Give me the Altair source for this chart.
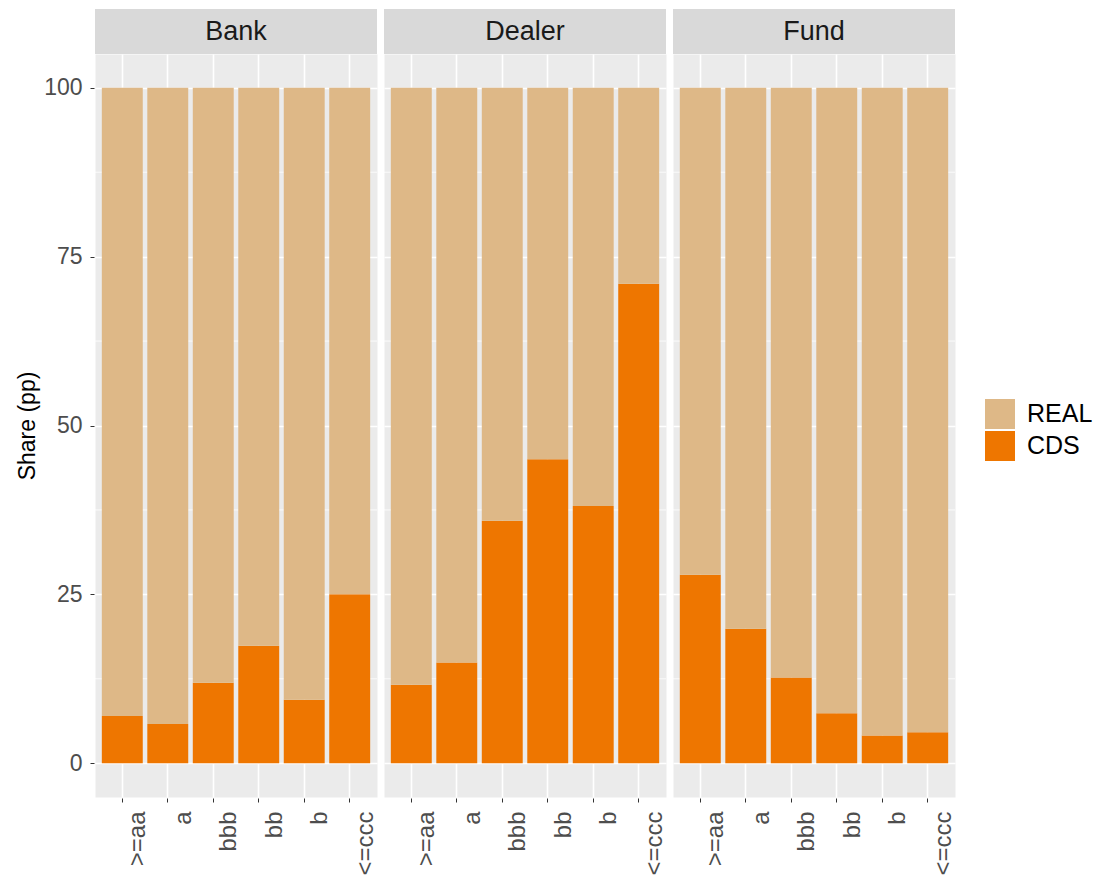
import altair as alt
import pandas as pd

groups = ["Bank", "Dealer", "Fund"]
ratings = [">=aa", "a", "bbb", "bb", "b", "<=ccc"]
cds_bank = [7.0, 5.8, 11.9, 17.4, 9.4, 25.0]
cds_dealer = [11.6, 14.9, 35.9, 45.0, 38.1, 71.0]
cds_fund = [27.9, 19.9, 12.7, 7.4, 4.1, 4.6]
series = ["REAL", "CDS"]
colors = ["#DEB887", "#EE7600"]
y_ticks = [0, 25, 50, 75, 100]
minor_grid = [12.5, 37.5, 62.5, 87.5]

rows = []
for g, vals in zip(groups, [cds_bank, cds_dealer, cds_fund]):
    for r, v in zip(ratings, vals):
        rows.append({"group": g, "rating": r, "series": "CDS", "share": v, "ord": 0})
        rows.append({"group": g, "rating": r, "series": "REAL", "share": 100 - v, "ord": 1})
df = pd.DataFrame(rows)

W = 282
H = 743
FONT = "Liberation Sans"

yscale = alt.Scale(domain=[-5, 105], nice=False, zero=False)

bars = alt.Chart().mark_bar().encode(
    x=alt.X("rating:N", sort=ratings, title=None,
            scale=alt.Scale(paddingInner=0.1, paddingOuter=0.15),
            axis=alt.Axis(grid=True, bandPosition=0.5, labelAngle=270, labelAlign="right",
                          labelBaseline="middle", labelOffset=16, labelPadding=9,
                          tickSize=4, tickColor="#333333", domain=False,
                          labelColor="#4D4D4D", labelFontSize=24, labelFont=FONT,
                          gridColor="white", gridWidth=1.6)),
    y=alt.Y("share:Q", stack="zero", scale=yscale, title="Share (pp)",
            axis=alt.Axis(values=y_ticks, grid=True, gridColor="white", gridWidth=1.6,
                          tickSize=4, tickColor="#333333", domain=False,
                          labelColor="#4D4D4D", labelFontSize=23, labelFont=FONT,
                          labelPadding=8, titleFontSize=23, titleFont=FONT,
                          titleColor="black", titleFontWeight="normal", titlePadding=4)),
    color=alt.Color("series:N", scale=alt.Scale(domain=series, range=colors),
                    legend=alt.Legend(title=None, orient="none", legendX=890, legendY=345,
                                      symbolType="square", symbolSize=900,
                                      symbolStrokeWidth=0, labelFontSize=25, labelFont=FONT,
                                      labelColor="black", rowPadding=2, labelOffset=12)),
    order=alt.Order("ord:Q", sort="ascending"),
)

minor_expr = "[" + ",".join(str(m) for m in minor_grid) + "]"
minor = alt.Chart().transform_filter(
    "datum.rating === '>=aa' && datum.series === 'CDS'"
).transform_calculate(m=minor_expr).transform_flatten(["m"]).mark_rule(
    color="white", strokeWidth=0.8
).encode(y=alt.Y("m:Q", scale=yscale))

strip = alt.Chart().transform_filter(
    "datum.rating === '>=aa' && datum.series === 'CDS'"
).mark_rect(color="#D9D9D9").encode(
    x=alt.value(0), x2=alt.value(W), y=alt.value(-45), y2=alt.value(0)
)

strip_text = alt.Chart().transform_filter(
    "datum.rating === '>=aa' && datum.series === 'CDS'"
).mark_text(fontSize=27, font=FONT, color="#1A1A1A", baseline="middle").encode(
    x=alt.value(W / 2), y=alt.value(-22), text="group:N"
)

layer = alt.layer(minor, bars, strip, strip_text).properties(width=W, height=H)

chart = layer.facet(
    data=df,
    column=alt.Column("group:N", sort=groups, header=None, title=None),
    spacing=5,
).properties(padding={"left": 8, "top": 0, "right": 0, "bottom": 0}).configure(
    background="white").configure_view(fill="#EBEBEB", stroke="transparent")

chart.save("out.html", embed_options={"renderer": "svg", "actions": False})
